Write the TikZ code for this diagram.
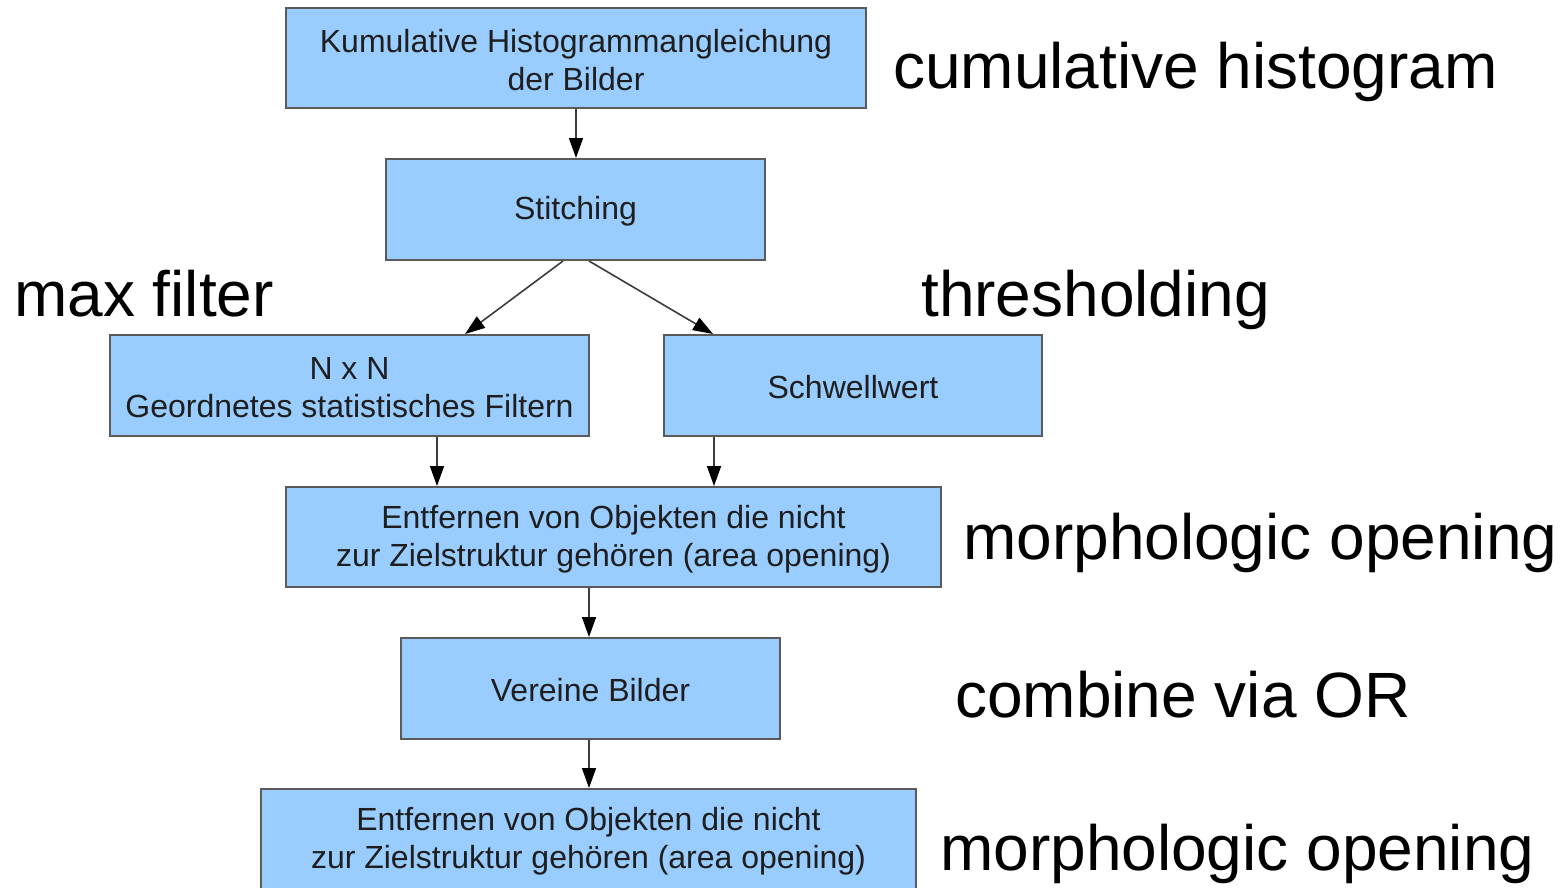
\documentclass[tikz,border=0pt]{standalone}
\usepackage{fontspec}
\setmainfont{Liberation Sans}
\usetikzlibrary{arrows.meta,calc}
\definecolor{boxfill}{HTML}{99CCFF}
\definecolor{boxline}{HTML}{5A5A5A}
\definecolor{boxtext}{HTML}{1E1E1E}
\definecolor{arrline}{HTML}{3C3C3C}
\begin{document}
\begin{tikzpicture}[x=1pt,y=-1pt,
  boxlabel/.style={inner sep=0pt, align=center, text=boxtext, yshift=-2pt,
    font=\fontsize{32}{38}\selectfont},
  stepbox/.style={rectangle, draw=boxline, fill=boxfill, line width=2pt,
    inner sep=0pt, label={[boxlabel]center:{#1}}},
  biglabel/.style={anchor=base west, inner sep=0pt, text=black,
    font=\fontsize{64}{70}\selectfont},
  arr/.style={draw=arrline, line width=1.6pt,
    -{Triangle[length=20pt,width=14pt,color=black]}}]
\useasboundingbox (0,0) rectangle (1562,887);
\clip (0,0) rectangle (1562,887);
\fill[white] (0,0) rectangle (1562,887);

\node[stepbox={Kumulative Histogrammangleichung\\der Bilder},
  minimum width=580pt, minimum height=100pt] (b1) at (576,58) {};
\node[stepbox={Stitching},
  minimum width=379pt, minimum height=101pt] (b2) at (575.5,209.5) {};
\node[stepbox={N x N\\Geordnetes statistisches Filtern},
  minimum width=479pt, minimum height=101pt] (b3) at (349.5,385.5) {};
\node[stepbox={Schwellwert},
  minimum width=378pt, minimum height=101pt] (b4) at (853,385.5) {};
\node[stepbox={Entfernen von Objekten die nicht\\zur Zielstruktur gehören (area opening)},
  minimum width=655pt, minimum height=100pt] (b5) at (613.5,537) {};
\node[stepbox={Vereine Bilder},
  minimum width=379pt, minimum height=101pt] (b6) at (590.5,688.5) {};
\node[stepbox={Entfernen von Objekten die nicht\\zur Zielstruktur gehören (area opening)},
  minimum width=655pt, minimum height=100pt] (b7) at (588.5,839) {};

\draw[arr] (b1.south) -- (b1.south |- b2.north);
\draw[arr] ($(b2.south)+(-12.5,0)$) -- ($(b3.north)+(115.5,0)$);
\draw[arr] ($(b2.south)+(13.5,0)$) -- ($(b4.north)+(-140,0)$);
\draw[arr] ($(b3.south)+(87.5,0)$) coordinate (p3) -- (p3 |- b5.north);
\draw[arr] ($(b4.south)+(-139,0)$) coordinate (p4) -- (p4 |- b5.north);
\draw[arr] ($(b5.south)+(-24.5,0)$) coordinate (p5) -- (p5 |- b6.north);
\draw[arr] ($(b6.south)+(-1.5,0)$) coordinate (p6) -- (p6 |- b7.north);

\node[biglabel] (l1) at (893,88) {cumulative histogram};
\node[biglabel] (l2) at (14,316) {max filter};
\node[biglabel] (l3) at (921,316) {thresholding};
\node[biglabel] (l4) at (963,559) {morphologic opening};
\node[biglabel] (l5) at (955,717) {combine via OR};
\node[biglabel] (l6) at (940,870) {morphologic opening};
\end{tikzpicture}
\end{document}
